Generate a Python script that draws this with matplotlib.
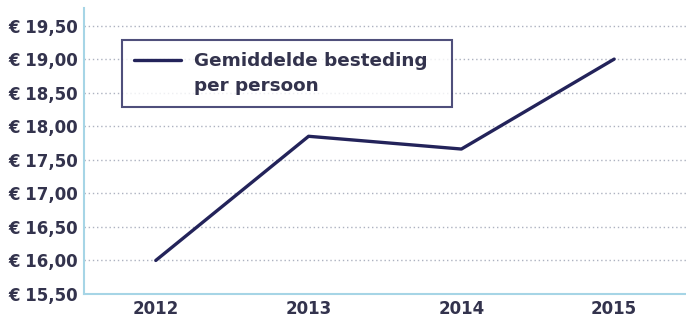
import matplotlib.pyplot as plt
from matplotlib.lines import Line2D
from matplotlib.ticker import FuncFormatter

plt.rcParams['font.family'] = ['DejaVu Sans']

years = ["2012", "2013", "2014", "2015"]
besteding = [16.00, 17.85, 17.66, 19.00]
y_ticks = [15.5, 16.0, 16.5, 17.0, 17.5, 18.0, 18.5, 19.0, 19.5]
legend_lines = ["Gemiddelde besteding  ", "per persoon"]

navy = "#23235a"
label_col = "#33334d"

fig = plt.figure(figsize=(6.86, 3.24), dpi=100)
ax = fig.add_axes([0.1224, 0.0926, 0.8776, 0.8824])

x = list(range(len(years)))
line, = ax.plot(x, besteding, color=navy, lw=2.4, solid_capstyle="round", zorder=3)

ax.set_xlim(-0.47, 3.47)
ax.set_ylim(15.5, 19.76)
ax.set_xticks(x)
ax.set_xticklabels(years)
ax.set_yticks(y_ticks)
ax.yaxis.set_major_formatter(FuncFormatter(lambda v, p: "€ " + f"{v:.2f}".replace(".", ",")))

for v in y_ticks[1:]:
    ax.axhline(v, color="#adb2c0", lw=1.0, ls=(0, (1, 2)), zorder=1)

for s in ["top", "right"]:
    ax.spines[s].set_visible(False)
ax.spines["left"].set_color("#a6d5e6")
ax.spines["bottom"].set_color("#a6d5e6")
ax.spines["left"].set_linewidth(1.5)
ax.spines["bottom"].set_linewidth(1.5)
ax.tick_params(length=0, labelsize=12, labelcolor=label_col, pad=4)
for t in ax.get_xticklabels() + ax.get_yticklabels():
    t.set_fontweight("bold")

# second legend row carries the wrapped text, without a handle
blank = Line2D([], [], color="none")
leg = ax.legend([line, blank], legend_lines, loc="upper left",
                bbox_to_anchor=(0.063, 0.888), frameon=True,
                fancybox=False, edgecolor=navy, fontsize=13.2, handlelength=2.6,
                borderpad=0.65, handletextpad=0.7, borderaxespad=0, labelspacing=0.4)
leg.get_frame().set_linewidth(1.5)
for t in leg.get_texts():
    t.set_color(label_col)
    t.set_fontweight("bold")

fig.savefig("out.png", dpi=100)
